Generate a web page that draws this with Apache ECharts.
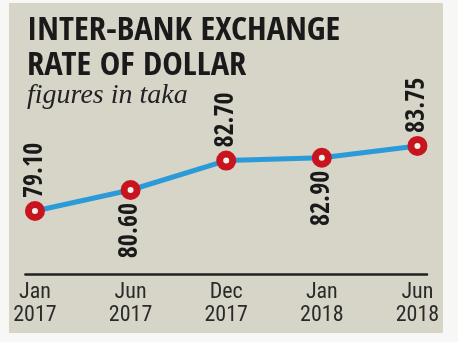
<!DOCTYPE html>
<html><head><meta charset="utf-8">
<script src="https://cdn.jsdelivr.net/npm/echarts@6/dist/echarts.min.js"></script>
<style>html,body{margin:0;padding:0;background:#f7f7f5;}#c{width:458px;height:342px;}</style>
</head><body><div id="c"></div>
<script>
const categories = ['Jan\n2017','Jun\n2017','Dec\n2017','Jan\n2018','Jun\n2018'];
const values = [79.10, 80.60, 82.70, 82.90, 83.75];
const labelSide = ['top','bottom','top','bottom','top'];
const titleLines = ['INTER-BANK EXCHANGE','RATE OF DOLLAR'];
const subtitle = 'figures in taka';

const boldCond = '"Open Sans Condensed","Roboto Condensed",sans-serif';
const regCond = '"Roboto Condensed","Open Sans Condensed",sans-serif';
const chart = echarts.init(document.getElementById('c'), null, {renderer:'canvas'});
const data = values.map((v,i)=>({
  value:[i,v],
  label:{
    position: labelSide[i],
    align: labelSide[i]==='top' ? 'left' : 'right',
    verticalAlign:'middle'
  }
}));
chart.setOption({
  backgroundColor:'#f7f7f5',
  animation:false,
  graphic:[
    {type:'rect', left:9, top:3, shape:{width:434, height:330}, style:{fill:'#d7d4c8'}, z:-10},
    {type:'text', x:27, y:14, scaleX:1.08, style:{text:titleLines.join('\n'), font:'bold 32px '+boldCond, fill:'#1a1a1a', lineHeight:35}},
    {type:'text', left:27, top:82, style:{text:subtitle, font:'italic 28px "Liberation Serif","DejaVu Serif",serif', fill:'#222'}}
  ],
  grid:{left:25.4, right:31, top:58.4, bottom:68},
  xAxis:{
    type:'value', min:-0.1, max:4.1,
    axisLine:{show:true, onZero:false, lineStyle:{color:'#222', width:2.5}},
    axisTick:{show:false},
    splitLine:{show:false},
    axisLabel:{
      customValues:[0,1,2,3,4],
      formatter:(v)=>categories[Math.round(v)],
      color:'#2a2a2a', fontSize:22, fontFamily:regCond, lineHeight:23, margin:7
    }
  },
  yAxis:{type:'value', min:74.6, max:90, show:false},
  series:[{
    type:'line', data:data,
    lineStyle:{color:'#2b9ad8', width:5},
    symbol:'circle', symbolSize:13,
    itemStyle:{color:'#f3f0ea', borderColor:'#c8141e', borderWidth:7},
    label:{
      show:true, rotate:90, distance:3,
      formatter:(p)=>p.value[1].toFixed(2),
      color:'#1a1a1a', fontWeight:'bold', fontSize:26, fontFamily:boldCond
    },
    z:5
  }]
});
</script></body></html>
